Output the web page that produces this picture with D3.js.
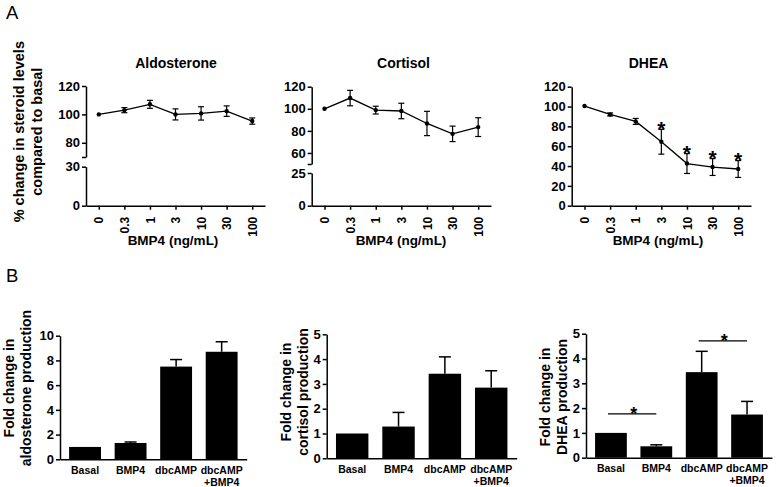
<!DOCTYPE html>
<html>
<head>
<meta charset="utf-8">
<script src="https://cdn.jsdelivr.net/npm/d3@7"></script>
<style>
  body { margin: 0; background: #fff; }
  svg text { font-family: "Liberation Sans", Arial, sans-serif; font-weight: bold; fill: #000; }
</style>
</head>
<body>
<script>
// ---- data: panel A (dose response, % of basal) ----
var doses = ["0", "0.3", "1", "3", "10", "30", "100"];

var aldoMean = [100, 103, 107.1, 100, 100.7, 102.3, 95.3];
var aldoErr  = [0, 1.8, 2.8, 3.9, 4.7, 3.7, 2.2];

var cortMean = [100, 109.7, 98.8, 98, 86.7, 77.3, 83.4];
var cortErr  = [0, 7, 3.5, 7, 11, 7, 8.5];

var dheaMean = [100.5, 92, 85, 64.5, 42.5, 39, 37];
var dheaErr  = [0, 1.5, 3, 12.5, 10, 8.5, 8.5];
var dheaSig  = [false, false, false, true, true, true, true];

// ---- data: panel B (fold change) ----
var groups = ["Basal", "BMP4", "dbcAMP", "dbcAMP\n+BMP4"];

var aldoFold    = [1.0, 1.32, 7.5, 8.7];
var aldoFoldErr = [0, 0.08, 0.57, 0.81];

var cortFold    = [1.0, 1.28, 3.41, 2.85];
var cortFoldErr = [0, 0.57, 0.68, 0.68];

var dheaFold    = [1.0, 0.46, 3.45, 1.74];
var dheaFoldErr = [0, 0.06, 0.84, 0.53];
var dheaBrackets = [
  { from: "Basal", to: "BMP4", level: 1.77 },
  { from: "dbcAMP", to: "dbcAMP\n+BMP4", level: 4.71 }
];

var svg = d3.select("body").append("svg")
    .attr("width", 777)
    .attr("height", 487);

function styleAxis(ax, fontSize) {
  ax.attr("font-family", null).attr("font-size", null);
  ax.selectAll(".domain").attr("stroke", "#000").attr("stroke-width", 1.5);
  ax.selectAll(".tick line").attr("stroke", "#000").attr("stroke-width", 1.5);
  ax.selectAll(".tick text").style("font-size", fontSize + "px");
}

// vertical (rotated) label, one text element per line
function vLabel(x, y, size, txt) {
  svg.append("text")
      .attr("transform", "translate(" + x + "," + y + ") rotate(-90)")
      .attr("text-anchor", "middle")
      .style("font-size", size + "px")
      .text(txt);
}


function drawLinePanel(cfg) {
  var g = svg.append("g");

  var x = d3.scalePoint().domain(doses).range([cfg.x0, cfg.x1]).padding(0.5);

  var segs = cfg.segments.map(function(s) {
    return { s: s, scale: d3.scaleLinear().domain(s.domain).range(s.range) };
  });
  function y(v) {
    for (var i = 0; i < segs.length; i++) {
      if (v >= segs[i].s.domain[0]) return segs[i].scale(v);
    }
    return segs[segs.length - 1].scale(v);
  }

  // y axis (possibly broken)
  segs.forEach(function(seg) {
    var ax = g.append("g")
        .attr("transform", "translate(" + cfg.x0 + ",0)")
        .call(d3.axisLeft(seg.scale)
          .tickValues(seg.s.ticks)
          .tickSize(4).tickPadding(2).tickSizeOuter(0)
          .tickFormat(function(d) { return d === seg.s.blank ? "" : d; }));
    styleAxis(ax, 13);
  });

  var baseY = segs[segs.length - 1].s.range[0];

  // x axis
  var xa = g.append("g")
      .attr("transform", "translate(0," + baseY + ")")
      .call(d3.axisBottom(x).tickSize(4).tickSizeOuter(0));
  styleAxis(xa, 12);
  xa.selectAll(".tick text")
      .attr("transform", "rotate(-90)")
      .attr("x", -11)
      .attr("y", 0)
      .attr("dy", "0.35em")
      .style("text-anchor", "end");

  // line
  var line = d3.line()
      .x(function(d, i) { return x(doses[i]); })
      .y(function(d) { return y(d); });

  g.append("path")
      .datum(cfg.mean)
      .attr("d", line)
      .attr("fill", "none")
      .attr("stroke", "#000")
      .attr("stroke-width", 1.3);

  // error bars
  cfg.mean.forEach(function(m, i) {
    var e = cfg.err[i];
    if (!e) return;
    var cx = x(doses[i]);
    g.append("line").attr("x1", cx).attr("x2", cx)
        .attr("y1", y(m - e)).attr("y2", y(m + e))
        .attr("stroke", "#000").attr("stroke-width", 1.2);
    [m - e, m + e].forEach(function(v) {
      g.append("line").attr("x1", cx - 3).attr("x2", cx + 3)
          .attr("y1", y(v)).attr("y2", y(v))
          .attr("stroke", "#000").attr("stroke-width", 1.2);
    });
  });

  g.selectAll("circle.pt")
      .data(cfg.mean)
      .enter().append("circle")
      .attr("class", "pt")
      .attr("cx", function(d, i) { return x(doses[i]); })
      .attr("cy", function(d) { return y(d); })
      .attr("r", 2.2)
      .attr("fill", "#000");

  // significance stars
  if (cfg.sig) {
    cfg.mean.forEach(function(m, i) {
      if (!cfg.sig[i]) return;
      g.append("text")
          .attr("x", x(doses[i]))
          .attr("y", y(m + cfg.err[i]) + 6.5)
          .attr("text-anchor", "middle")
          .style("font-size", "21px")
          .text("*");
    });
  }

  // title and x label
  g.append("text")
      .attr("x", cfg.titleX)
      .attr("y", 68)
      .attr("text-anchor", "middle")
      .style("font-size", "14px")
      .text(cfg.title);

  g.append("text")
      .attr("x", cfg.xLabelX)
      .attr("y", 245)
      .attr("text-anchor", "middle")
      .style("font-size", "13.5px")
      .text("BMP4 (ng/mL)");
}


function drawBarPanel(cfg) {
  var g = svg.append("g");

  var x = d3.scaleBand().domain(groups).range([cfg.x0, cfg.x1])
      .paddingInner(0.3).paddingOuter(0.2);
  var y = d3.scaleLinear().domain([0, cfg.max]).range([cfg.y0, cfg.y1]);

  var ya = g.append("g")
      .attr("transform", "translate(" + cfg.x0 + ",0)")
      .call(d3.axisLeft(y).ticks(cfg.ticks).tickSize(4).tickPadding(2).tickSizeOuter(0));
  styleAxis(ya, 13);

  // error bars (upper only)
  cfg.mean.forEach(function(m, i) {
    var e = cfg.err[i];
    if (!e) return;
    var cx = x(groups[i]) + x.bandwidth() / 2;
    g.append("line").attr("x1", cx).attr("x2", cx)
        .attr("y1", y(m)).attr("y2", y(m + e))
        .attr("stroke", "#000").attr("stroke-width", 1.5);
    g.append("line").attr("x1", cx - 6).attr("x2", cx + 6)
        .attr("y1", y(m + e)).attr("y2", y(m + e))
        .attr("stroke", "#000").attr("stroke-width", 1.5);
  });

  g.selectAll("rect.bar")
      .data(cfg.mean)
      .enter().append("rect")
      .attr("class", "bar")
      .attr("x", function(d, i) { return x(groups[i]); })
      .attr("width", x.bandwidth())
      .attr("y", function(d) { return y(d); })
      .attr("height", function(d) { return cfg.y0 - y(d); })
      .attr("fill", "#000");

  var xa = g.append("g")
      .attr("transform", "translate(0," + cfg.y0 + ")")
      .call(d3.axisBottom(x).tickSize(0).tickSizeOuter(0));
  styleAxis(xa, 10.5);
  xa.selectAll(".tick text").each(function(d) {
    var t = d3.select(this);
    t.text(null).attr("y", 7).attr("dy", null);
    d.split("\n").forEach(function(ln, k) {
      t.append("tspan")
          .attr("x", 0)
          .attr("dy", k ? "1.15em" : "0.71em")
          .text(ln);
    });
  });

  // y label
  vLabel(cfg.labelX, cfg.labelY, 14, "Fold change in");
  vLabel(cfg.labelX + 17, cfg.labelY, 14, cfg.label2);

  if (cfg.brackets) {
    cfg.brackets.forEach(function(b) {
      var xa0 = x(b.from) + x.bandwidth() / 2;
      var xa1 = x(b.to) + x.bandwidth() / 2;
      g.append("line")
          .attr("x1", xa0 - 3).attr("x2", xa1)
          .attr("y1", y(b.level)).attr("y2", y(b.level))
          .attr("stroke", "#000").attr("stroke-width", 1.3);
      g.append("text")
          .attr("x", (xa0 + xa1) / 2)
          .attr("y", y(b.level) + 6)
          .attr("text-anchor", "middle")
          .style("font-size", "18px")
          .text("*");
    });
  }
}


// panel letters
svg.append("text").attr("x", 6).attr("y", 18.5)
    .style("font-size", "18.5px").style("font-weight", "normal").text("A");
svg.append("text").attr("x", 6).attr("y", 281.7)
    .style("font-size", "18.5px").style("font-weight", "normal").text("B");

// panel A y label
vLabel(24, 131.7, 14.5, "% change in steroid levels");
vLabel(42, 131.7, 14.5, "compared to basal");

drawLinePanel({
  title: "Aldosterone", titleX: 176, xLabelX: 173,
  mean: aldoMean, err: aldoErr,
  x0: 86, x1: 265,
  segments: [
    { domain: [70, 120], range: [157, 86], ticks: [70, 80, 100, 120], blank: 70 },
    { domain: [0, 30], range: [205.7, 166.7], ticks: [0, 30] }
  ]
});

drawLinePanel({
  title: "Cortisol", titleX: 403.5, xLabelX: 401,
  mean: cortMean, err: cortErr,
  x0: 311.7, x1: 491,
  segments: [
    { domain: [50, 120], range: [164, 86.7], ticks: [50, 60, 80, 100, 120], blank: 50 },
    { domain: [0, 25], range: [205.7, 173], ticks: [0, 25] }
  ]
});

drawLinePanel({
  title: "DHEA", titleX: 648.5, xLabelX: 658,
  mean: dheaMean, err: dheaErr, sig: dheaSig,
  x0: 571.7, x1: 751,
  segments: [
    { domain: [0, 120], range: [205.7, 86.7], ticks: [0, 20, 40, 60, 80, 100, 120] }
  ]
});

drawBarPanel({
  mean: aldoFold, err: aldoFoldErr, max: 10, ticks: 5,
  x0: 60, x1: 246.7, y0: 459.3, y1: 335.7,
  labelX: 14, labelY: 388, label2: "aldosterone production"
});

drawBarPanel({
  mean: cortFold, err: cortFoldErr, max: 5, ticks: 5,
  x0: 326.7, x1: 516.7, y0: 458.3, y1: 334.3,
  labelX: 290.5, labelY: 392, label2: "cortisol production"
});

drawBarPanel({
  mean: dheaFold, err: dheaFoldErr, max: 5, ticks: 5,
  x0: 586, x1: 772, y0: 457.7, y1: 333.7,
  labelX: 550, labelY: 397, label2: "DHEA production",
  brackets: dheaBrackets
});
</script>
</body>
</html>
